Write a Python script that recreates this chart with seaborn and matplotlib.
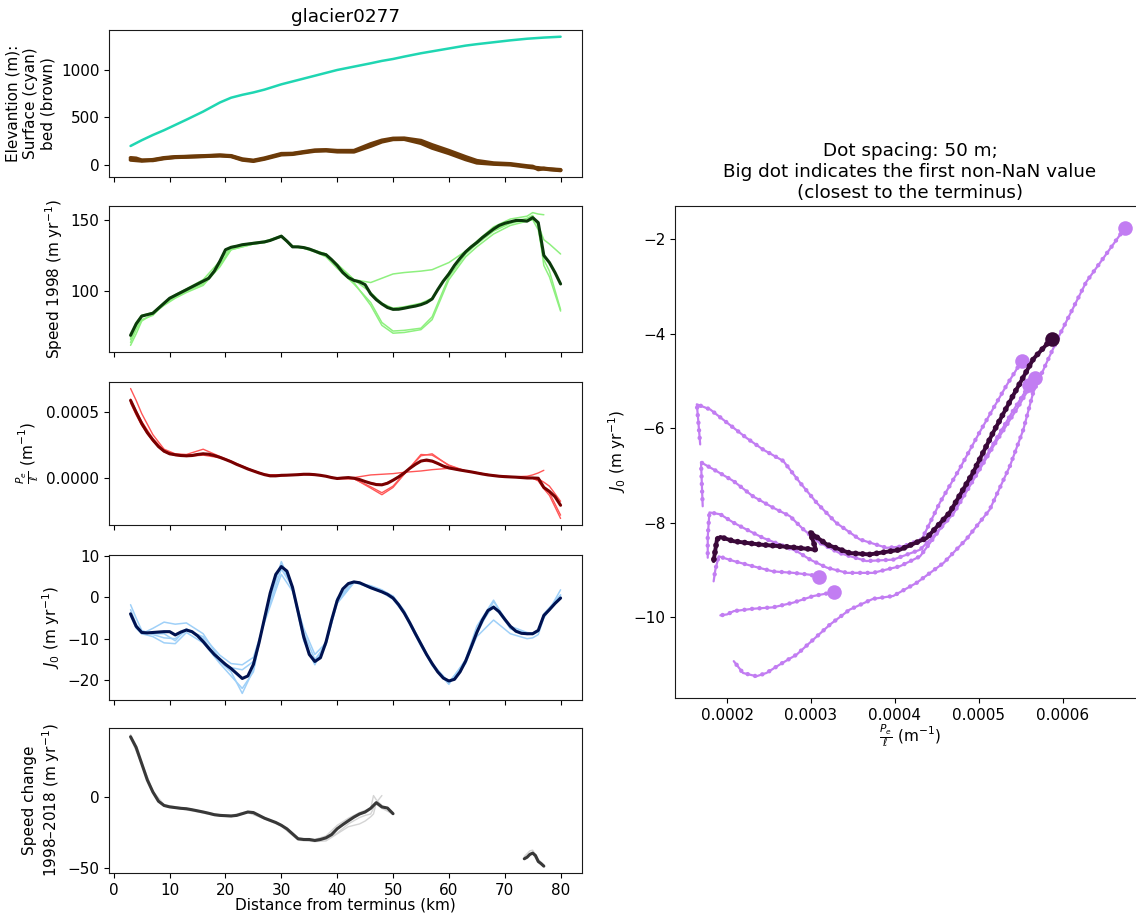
import numpy as np
import matplotlib
matplotlib.use("Agg")
import matplotlib.pyplot as plt
import seaborn as sns

nan = np.nan

# ---------------------------------------------------------------- data
# distance from terminus (km)
km = list(range(3, 81))  # grid of the ensemble means
km_thin = [3, 4, 5, 7, 9, 11, 13, 16, 19, 21, 23, 25, 27, 30, 32, 34, 36, 38, 40, 43,
           46, 48, 50, 52, 55, 57, 60, 63, 65, 68, 71, 74, 75, 76, 77, 78, 80]

# elevation (m)
surface = [200, 230, 260, 315, 365, 420, 475, 560, 655, 705,
           735, 760, 790, 845, 875, 905, 935, 965, 995, 1030,
           1065, 1090, 1110, 1135, 1170, 1190, 1220, 1250, 1265, 1285,
           1305, 1322, 1326, 1330, 1334, 1337, 1343]
bed_a = [55, 50, 45, 55, 75, 85, 88, 92, 100, 92,
         55, 42, 65, 110, 115, 132, 148, 152, 141, 140,
         200, 245, 270, 272, 230, 180, 124, 60, 25, 12,
         5, -18, -25, -30, -38, -45, -55]
bed_b = [75, 70, 50, 50, 70, 82, 86, 95, 102, 96,
         62, 48, 72, 118, 120, 138, 155, 158, 150, 150,
         220, 258, 278, 280, 255, 210, 150, 85, 45, 20,
         12, -10, -15, -45, -35, -42, -50]

# speed 1998 (m/yr)
speed_mean = [69, 77, 82.5, 83.5, 84.5, 88, 91.5, 95, 97, 99,
              101, 103, 105, 107, 109, 114, 121, 129, 130.7, 131.5,
              132.5, 133, 133.5, 134, 134.5, 135.5, 137, 138.5, 135, 131,
              131, 130.5, 129.5, 128, 126.5, 125.5, 122, 118, 113, 109.5,
              107.5, 106.5, 104.5, 98, 94, 91, 88.5, 87.2, 87.3, 88,
              88.8, 89.5, 90.5, 92, 94.5, 101, 107, 112, 118, 123,
              127.5, 131, 134, 137.5, 140.5, 143.5, 146, 147.5, 148.5, 149.5,
              149.5, 149, 151.5, 148, 125, 120, 113, 105]
speed_runs = [
    [66, 75, 82, 85, 91, 96, 100, 106, 119, 129,
     131, 133, 134, 138, 131, 130.5, 128.5, 126, 119, 108,
     106, 109, 112, 113, 114, 115, 120, 128, 134, 143,
     148, 151, 153, 146, 136, 133, 126],
    [62, 70, 79, 84, 90, 95, 99, 104, 117, 129,
     131, 133, 134, 138, 131, 130, 128, 126, 118, 106,
     90, 76, 70.5, 71, 73, 80, 108, 124, 131, 140,
     146, 149, 150, 143, 122, 114, 87],
    [64, 73, 80, 83, 91, 96, 100, 105, 118, 130,
     132, 133, 134.5, 139, 131.5, 130, 127.5, 124, 116, 105,
     92, 78, 72, 72.5, 74, 82, 110, 126, 133, 142,
     147.5, 150, 152, 146, 118, 110, 86],
    [67, 78, 83, 85, 92, 97.5, 101.5, 108, 121, 131,
     132.5, 134, 135, 138.5, 131.5, 131, 128.5, 125.5, 118.5, 108,
     99, 91.5, 88, 89, 91.5, 95, 113, 128, 135, 145,
     150.5, 152.5, 155, 154, 153.5, nan, nan],
]

# Pe / l, in units of 1e-4 m^-1
PE_UNIT = 1e-4
pe_mean = [5.9, 5.0, 4.15, 3.45, 2.9, 2.4, 2.05, 1.85, 1.78, 1.72,
           1.7, 1.72, 1.8, 1.85, 1.82, 1.72, 1.58, 1.42, 1.25, 1.05,
           0.88, 0.7, 0.55, 0.4, 0.27, 0.18, 0.18, 0.22, 0.23, 0.25,
           0.27, 0.3, 0.3, 0.27, 0.22, 0.15, 0.05, -0.02, 0.02, 0.05,
           0.0, -0.1, -0.25, -0.38, -0.48, -0.5, -0.38, -0.15, 0.1, 0.4,
           0.75, 1.05, 1.3, 1.38, 1.3, 1.12, 0.92, 0.78, 0.7, 0.62,
           0.55, 0.48, 0.4, 0.32, 0.25, 0.2, 0.15, 0.12, 0.1, 0.08,
           0.05, 0.02, 0.02, 0.0, -0.7, -1.0, -1.4, -2.05]
pe_runs = [
    [6.0, 5.1, 4.3, 3.0, 2.1, 1.8, 1.72, 1.88, 1.6, 1.27,
     0.9, 0.56, 0.28, 0.22, 0.25, 0.3, 0.27, 0.15, -0.02, 0.05,
     0.25, 0.3, 0.35, 0.45, 0.55, 0.65, 0.75, 0.55, 0.42, 0.22,
     0.12, 0.05, 0.02, -0.05, -0.3, -0.6, -1.75],
    [6.8, 5.9, 4.9, 3.3, 2.2, 1.85, 1.8, 2.2, 1.65, 1.3,
     0.92, 0.58, 0.3, 0.2, 0.24, 0.3, 0.27, 0.16, -0.02, -0.02,
     -0.75, -1.25, -0.7, 0.3, 1.8, 1.75, 1.0, 0.55, 0.42, 0.2,
     0.1, 0.02, 0.0, -0.2, -0.8, -1.3, -3.05],
    [5.7, 4.8, 4.0, 2.8, 2.0, 1.72, 1.65, 1.75, 1.55, 1.25,
     0.88, 0.55, 0.27, 0.2, 0.24, 0.28, 0.27, 0.15, -0.03, -0.05,
     -0.65, -1.1, -0.6, 0.35, 1.7, 1.85, 0.95, 0.55, 0.4, 0.2,
     0.1, 0.02, 0.0, -0.15, -0.7, -1.1, -2.8],
    [5.85, 4.95, 4.1, 2.9, 2.05, 1.78, 1.7, 1.85, 1.58, 1.25,
     0.88, 0.55, 0.27, 0.22, 0.25, 0.3, 0.27, 0.15, -0.02, 0.0,
     -0.35, -0.5, -0.15, 0.45, 1.3, 1.25, 0.78, 0.55, 0.4, 0.2,
     0.1, 0.15, 0.25, 0.4, 0.6, nan, nan],
]

# J0 (m/yr)
j0_mean = [-4.0, -7.0, -8.5, -8.6, -8.5, -8.4, -8.3, -8.3, -9.1, -8.4,
           -7.9, -8.3, -9.3, -10.7, -12.3, -13.8, -15.0, -16.2, -17.2, -18.4,
           -19.6, -19.0, -16.2, -11.0, -5.0, 1.0, 5.5, 7.4, 6.3, 2.4,
           -3.5, -9.5, -13.8, -15.5, -14.6, -10.8, -5.5, -0.8, 2.0, 3.3,
           3.7, 3.5, 2.9, 2.3, 1.8, 1.3, 0.7, -0.2, -1.8, -3.8,
           -6.2, -8.8, -11.3, -13.8, -16.0, -18.0, -19.5, -20.2, -19.8, -18.0,
           -15.4, -12.0, -8.5, -5.5, -3.2, -2.4, -3.5, -5.3, -7.0, -8.2,
           -8.7, -8.8, -8.8, -8.0, -4.4, -3.0, -1.5, -0.2]
j0_runs = [
    [-1.8, -5.0, -8.0, -9.0, -9.8, -10.0, -8.0, -9.5, -14.0, -16.0,
     -16.3, -14.5, -6.0, 5.5, 1.5, -7.5, -13.8, -11.0, -1.5, 3.5,
     2.8, 1.8, 0.2, -3.5, -11.0, -16.0, -20.5, -15.5, -9.5, -5.5,
     -8.8, -10.0, -9.8, -9.0, -5.0, -3.0, 1.8],
    [-3.0, -6.5, -8.8, -7.5, -6.0, -6.5, -6.2, -8.8, -15.0, -17.0,
     -17.5, -15.5, -5.5, 6.8, 2.5, -8.5, -15.0, -11.5, -1.0, 3.7,
     2.5, 1.6, 0.3, -3.2, -11.0, -16.2, -20.8, -16.0, -8.8, -1.0,
     -7.0, -8.5, -8.7, -8.0, -4.0, -2.5, 0.5],
    [-4.5, -7.5, -8.8, -9.5, -11.0, -11.2, -8.5, -11.0, -16.0, -19.0,
     -22.0, -18.0, -4.5, 8.2, 2.0, -10.5, -16.3, -10.5, -0.2, 3.8,
     2.2, 1.2, -0.5, -4.0, -11.8, -16.3, -20.8, -15.2, -7.8, -2.0,
     -7.5, -8.8, -9.0, -8.3, -4.2, -2.7, 0.2],
    [-4.0, -7.2, -8.5, -8.8, -8.8, -10.5, -7.6, -10.0, -15.5, -18.0,
     -23.2, -17.5, -4.8, 8.6, 2.2, -10.0, -16.0, -10.8, -0.5, 3.6,
     2.4, 1.4, 0.0, -3.8, -11.5, -16.5, -21.0, -15.0, -7.0, -0.7,
     -7.6, -9.0, -8.9, -8.2, -4.5, -2.8, 0.6],
]

# speed change 1998-2018 (m/yr), two stretches with data
dv_km_near = list(range(3, 51))
dv_mean_near = [42.5, 35, 23.5, 12, 3.5, -3, -6, -7, -7.5, -8,
                -8.3, -9, -9.8, -10.6, -11.5, -12.5, -13, -13.2, -13.4, -13,
                -11.8, -10.6, -11, -13, -15, -16.5, -18, -20, -22.5, -26,
                -29.5, -30, -30, -30.7, -30, -28.8, -26.5, -22.4, -19.5, -16.8,
                -14.2, -12, -10.6, -8, -4, -7, -7.8, -11.8]
dv_km_far = [73.5, 74, 74.5, 75, 75.5, 76, 76.5, 77]
dv_mean_far = [-43.6, -42.5, -40.5, -39.6, -41.3, -45.5, -47, -48.8]
dv_km_thin = [3, 5, 7, 9, 12, 15, 18, 21, 24, 27, 30, 33, 36, 38, 40, 42, 44, 45, 46, 46.5, 47, 48, 50]
dv_runs = [
    [44, 24.5, 4, -5.5, -7.5, -9.5, -12, -13, -10.2, -14.5, -19.5, -29, -30, -27.5,
     -20, -15, -11, -9.5, -8, 1, -2, -6, nan],
    [42, 23, 3, -6.5, -8.5, -10.5, -13, -14, -11, -15.5, -20.5, -30.5, -31.5, -31,
     -26, -21, -19, -17, -14, -12, -4, 1, nan],
    [43, 23.5, 3.5, -6, -8, -10, -12.5, -13.5, -10.8, -15, -20, -29.8, -31, -30,
     -25.5, -19, -14.5, -13, -12, -8, -5, -8, -12],
]
dv_km_thin_far = [73.5, 74.5, 75, 76, 77]
dv_runs_far = [[-42, -38, -37.5, -44, -48], [-44, -41, -40, -46, -49]]

# J0 against Pe/l, each run listed from the terminus end (big dot) onward
phase_runs = [
    ([0.000674, 0.000628, 0.000596, 0.000581, 0.000565, 0.000553, 0.000537, 0.000513,
      0.000485, 0.000458, 0.000426, 0.000398, 0.000374, 0.000346, 0.000323, 0.000303,
      0.000283, 0.000263, 0.000247, 0.000235, 0.000219, 0.000208],
     [-1.76, -2.9, -4.03, -4.6, -5.23, -6.03, -6.8, -7.72, -8.35, -8.85, -9.27, -9.55,
      -9.61, -9.84, -10.15, -10.47, -10.79, -11.0, -11.18, -11.25, -11.18, -10.93]),
    ([0.000551, 0.000533, 0.000501, 0.000477, 0.000454, 0.000432, 0.00041, 0.00039,
      0.000358, 0.00033, 0.000307, 0.000287, 0.000267, 0.000243, 0.000223, 0.0002,
      0.00018, 0.000164, 0.000166, 0.000168],
     [-4.58, -5.09, -6.08, -6.86, -7.56, -8.35, -8.5, -8.53, -8.35, -8.0, -7.58, -7.15,
      -6.69, -6.45, -6.2, -5.88, -5.6, -5.49, -5.9, -6.34]),
    ([0.000567, 0.000545, 0.00052, 0.000495, 0.00047, 0.000445, 0.00043, 0.000398,
      0.000366, 0.000334, 0.00031, 0.000291, 0.000275, 0.000255, 0.000231, 0.000208,
      0.000188, 0.000169, 0.00017, 0.000171],
     [-4.94, -5.6, -6.3, -7.05, -7.8, -8.3, -8.57, -8.78, -8.81, -8.64, -8.42, -8.14,
      -7.86, -7.68, -7.44, -7.12, -6.91, -6.72, -7.2, -7.65]),
    ([0.00056, 0.00054, 0.000515, 0.00049, 0.000465, 0.000445, 0.00043, 0.000406,
      0.000374, 0.000343, 0.000319, 0.000299, 0.000283, 0.000263, 0.000243, 0.000223,
      0.000208, 0.000192, 0.000179, 0.000177, 0.000177],
     [-5.09, -5.65, -6.4, -7.15, -7.85, -8.35, -8.71, -8.92, -9.06, -9.06, -8.95, -8.78,
      -8.6, -8.46, -8.32, -8.14, -8.0, -7.82, -7.78, -8.3, -8.74]),
    ([0.00031, 0.000299, 0.000279, 0.000255, 0.000231, 0.000208, 0.00019, 0.000186, 0.000184],
     [-9.15, -9.1, -9.06, -9.03, -8.92, -8.81, -8.71, -9.0, -9.24]),
    ([0.000327, 0.000303, 0.000279, 0.000255, 0.000231, 0.000208, 0.0002, 0.000192],
     [-9.47, -9.55, -9.69, -9.79, -9.82, -9.87, -9.94, -9.96]),
]
phase_mean_x = [0.000587, 0.000565, 0.000541, 0.000517, 0.000493, 0.000465, 0.000438,
                0.000406, 0.00037, 0.000346, 0.000319, 0.000299, 0.000306, 0.000279,
                0.000239, 0.000208, 0.000192, 0.000188, 0.000184]
phase_mean_y = [-4.10, -4.53, -5.30, -6.09, -6.94, -7.79, -8.32, -8.57, -8.67, -8.64,
                -8.46, -8.20, -8.57, -8.52, -8.46, -8.39, -8.30, -8.35, -8.81]

# ---------------------------------------------------------------- style
sns.set_style("ticks")
plt.rcParams["font.family"] = ["DejaVu Sans"]
plt.rcParams.update({
    "font.size": 11,
    "axes.labelsize": 11,
    "axes.titlesize": 13.2,
    "xtick.labelsize": 11,
    "ytick.labelsize": 11,
    "xtick.major.size": 3.5,
    "ytick.major.size": 3.5,
    "axes.edgecolor": "0.1",
    "text.color": "black",
    "axes.labelcolor": "black",
    "xtick.color": "black",
    "ytick.color": "black",
})

fig = plt.figure(figsize=(11.36, 9.13), dpi=100)
left, width = 0.096, 0.4164
ax1 = fig.add_axes([left, 0.8061, width, 0.1610])
ax2 = fig.add_axes([left, 0.6145, width, 0.1599], sharex=ax1)
ax3 = fig.add_axes([left, 0.4250, width, 0.1566], sharex=ax1)
ax4 = fig.add_axes([left, 0.2333, width, 0.1588], sharex=ax1)
ax5 = fig.add_axes([left, 0.0438, width, 0.1588], sharex=ax1)
axr = fig.add_axes([0.5942, 0.2355, 0.4137, 0.5389])


def line(ax, x, y, color, lw, z=2):
    sns.lineplot(x=x, y=y, sort=False, estimator=None, color=color,
                 linewidth=lw, ax=ax, zorder=z)


# elevation
line(ax1, km_thin, surface, "#1fd6b2", 1.8)
line(ax1, km_thin, bed_b, "#6e3c0b", 2.8)
line(ax1, km_thin, bed_a, "#6b3a08", 2.8)
ax1.set_title("glacier0277")
ax1.set_ylabel("Elevantion (m):\nSurface (cyan)\nbed (brown)")
ax1.set_yticks([0, 500, 1000])

# speed
for run in speed_runs:
    line(ax2, km_thin, run, "#8ef07f", 1.1)
line(ax2, km, speed_mean, "#0b3a0b", 2.2, 3)
ax2.set_ylabel("Speed 1998 (m yr$^{-1}$)")
ax2.set_yticks([100, 150])

# Pe / l
for run in pe_runs:
    line(ax3, km_thin, np.array(run) * PE_UNIT, "#ff5656", 1.0)
line(ax3, km, np.array(pe_mean) * PE_UNIT, "#780000", 2.2, 3)
ax3.set_ylabel(r"$\frac{P_e}{\ell}$ (m$^{-1}$)")
ax3.set_yticks([0.0, 0.0005])

# J0
for run in j0_runs:
    line(ax4, km_thin, run, "#9fd0f8", 1.1)
line(ax4, km, j0_mean, "#001250", 2.2, 3)
ax4.set_ylabel("$J_0$ (m yr$^{-1}$)")
ax4.set_yticks([-20, -10, 0, 10])

# speed change
for run in dv_runs:
    line(ax5, dv_km_thin, run, "#d4d4d4", 1.0)
for run in dv_runs_far:
    line(ax5, dv_km_thin_far, run, "#d4d4d4", 1.0)
line(ax5, dv_km_near, dv_mean_near, "#383838", 2.2, 3)
line(ax5, dv_km_far, dv_mean_far, "#383838", 2.2, 3)
ax5.set_ylabel("Speed change\n1998\u20132018 (m yr$^{-1}$)")
ax5.set_yticks([-50, 0])
ax5.set_xlabel("Distance from terminus (km)", labelpad=0)
ax5.set_xticks(range(0, 81, 10))

for ax in (ax1, ax2, ax3, ax4):
    ax.tick_params(labelbottom=False)

# phase plot
light, dark = "#c27df2", "#3a0839"
for xs, ys in phase_runs:
    line(axr, xs, ys, light, 1.6)
    axr.plot(xs, ys, color=light, lw=3.2, linestyle=(0, (0.01, 1.7)),
             dash_capstyle="round", zorder=2)
    sns.scatterplot(x=[xs[0]], y=[ys[0]], s=110, color=light, linewidth=0,
                    ax=axr, zorder=4)
line(axr, phase_mean_x, phase_mean_y, dark, 2.8, 5)
axr.plot(phase_mean_x, phase_mean_y, color=dark, lw=4.2, linestyle=(0, (0.01, 1.2)),
         dash_capstyle="round", zorder=5)
sns.scatterplot(x=[phase_mean_x[0]], y=[phase_mean_y[0]], s=110, color=dark,
                linewidth=0, ax=axr, zorder=6)
axr.set_xlim(0.000138, 0.000698)
axr.set_ylim(-11.71, -1.29)
axr.set_yticks([-10, -8, -6, -4, -2])
axr.set_xlabel(r"$\frac{P_e}{\ell}$ (m$^{-1}$)", labelpad=0)
axr.set_ylabel("$J_0$ (m yr$^{-1}$)")
axr.set_title("Dot spacing: 50 m;\nBig dot indicates the first non-NaN value\n"
              "(closest to the terminus)")

fig.savefig("out.png", dpi=100)
